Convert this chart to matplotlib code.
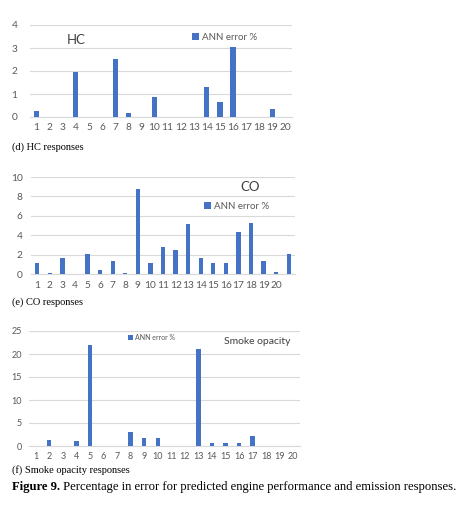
import matplotlib
matplotlib.use("Agg")
import matplotlib.pyplot as plt
import numpy as np

# ---------------- data ----------------
hc_categories = [str(i) for i in range(1, 21)]
hc_values = [0.25, 0, 0, 1.97, 0, 0, 2.53, 0.18, 0, 0.87,
             0, 0, 0, 1.30, 0.65, 3.05, 0, 0, 0.35, 0]

co_categories = [str(i) for i in range(1, 21)] + [""]
co_values = [1.1, 0.1, 1.6, 0, 2.1, 0.45, 1.3, 0.1, 8.8, 1.1,
             2.8, 2.5, 5.2, 1.65, 1.1, 1.1, 4.35, 5.3, 1.35, 0.2, 2.1]

smoke_categories = [str(i) for i in range(1, 21)]
smoke_values = [0, 1.4, 0, 1.0, 22.0, 0, 0, 3.0, 1.8, 1.7,
                0, 0, 21.1, 0.6, 0.6, 0.6, 2.2, 0, 0, 0]

series_label = "ANN error %"
captions = ["(d) HC responses", "(e) CO responses", "(f) Smoke opacity responses"]
fig_caption_bold = "Figure 9."
fig_caption_rest = " Percentage in error for predicted engine performance and emission responses."

# ---------------- style ----------------
W, H = 463, 505
BAR = "#4472C4"
GRID = "#D9D9D9"
TXT = "#595959"
FONT = "Lato"

fig = plt.figure(figsize=(W / 100, H / 100), dpi=100)
fig.patch.set_facecolor("white")


def rect(x0, x1, ytop, ybot):
    return [x0 / W, 1 - ybot / H, (x1 - x0) / W, (ybot - ytop) / H]


def panel(r, cats, vals, ymax, ystep, width, ypad, xpad, title, tpos, tsize,
          lpos, lsize, tick_size=7.3):
    ax = fig.add_axes(r)
    x = np.arange(len(cats))
    ax.bar(x, vals, width=width, color=BAR, label=series_label, zorder=3)
    ax.set_xlim(-0.5, len(cats) - 0.5)
    ax.set_ylim(0, ymax)
    ax.set_yticks(np.arange(0, ymax + 0.001, ystep))
    ax.set_yticklabels([f"{v:g}" for v in np.arange(0, ymax + 0.001, ystep)],
                       fontsize=tick_size, color=TXT, family=FONT)
    ax.set_xticks(x)
    ax.set_xticklabels(cats, fontsize=tick_size, color=TXT, family=FONT)
    ax.tick_params(axis="y", length=0, pad=ypad)
    ax.tick_params(axis="x", length=0, pad=xpad)
    ax.grid(axis="y", color=GRID, linewidth=0.8, zorder=0)
    for s in ["top", "right", "left"]:
        ax.spines[s].set_visible(False)
    ax.spines["bottom"].set_color(GRID)
    ax.spines["bottom"].set_linewidth(0.8)
    ax.text(tpos[0], tpos[1], title, transform=ax.transAxes, fontsize=tsize,
            color="#404040", family=FONT, va="center", ha="left")
    ax.legend(loc="center left", bbox_to_anchor=lpos, frameon=False,
              prop={"family": FONT, "size": lsize},
              handlelength=0.7, handleheight=0.7, handletextpad=0.3,
              borderpad=0, borderaxespad=0, labelcolor=TXT)
    return ax


# HC
panel(rect(30, 292, 25, 117), hc_categories, hc_values, 4, 1, 0.4,
      ypad=9, xpad=4.5, title="HC", tpos=((67 - 30) / 262, (117 - 40) / 92),
      tsize=9.5, lpos=((192 - 30) / 262, (117 - 37) / 92), lsize=7)

# CO
panel(rect(31, 295, 177, 274), co_categories, co_values, 10, 2, 0.33,
      ypad=6, xpad=5, title="CO", tpos=((240 - 31) / 264, (274 - 187) / 97),
      tsize=9.5, lpos=((204 - 31) / 264, (274 - 206) / 97), lsize=7)

# Smoke
panel(rect(29, 300, 331, 446), smoke_categories, smoke_values, 25, 5, 0.32,
      ypad=5, xpad=4.5, title="Smoke opacity",
      tpos=((224 - 29) / 271, (446 - 341) / 115),
      tsize=7.5, lpos=((128 - 29) / 271, (446 - 337) / 115), lsize=5,
      tick_size=6.5)

# captions
for cap, y in zip(captions, [147, 302, 470]):
    fig.text(12 / W, 1 - y / H, cap, fontsize=7.5, family="Liberation Serif",
             va="center", ha="left", color="black")

t = fig.text(12 / W, 1 - 487 / H, fig_caption_bold, fontsize=9.1,
             family="Liberation Serif", weight="bold", va="center", ha="left")
fig.canvas.draw()
bb = t.get_window_extent()
fig.text(bb.x1 / W, 1 - 487 / H, fig_caption_rest, fontsize=9.1,
         family="Liberation Serif", va="center", ha="left")

fig.savefig("out.png", dpi=100)
